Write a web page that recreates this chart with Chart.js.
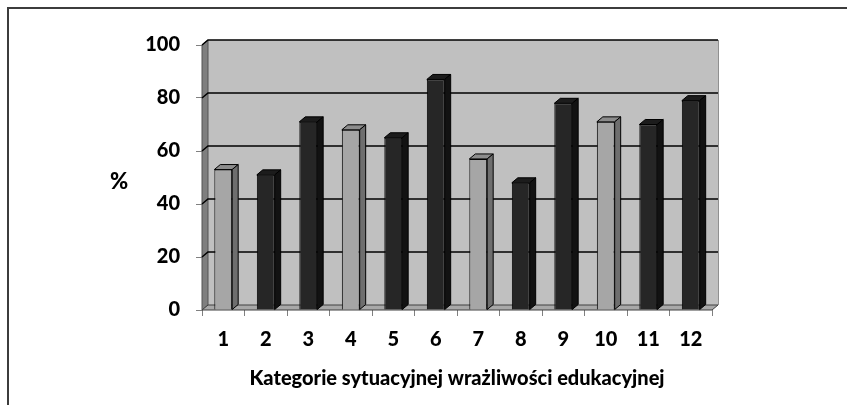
<!DOCTYPE html>
<html>
<head>
<meta charset="utf-8">
<script src="https://cdn.jsdelivr.net/npm/chart.js@4"></script>
<style>
  body { margin: 0; background: #fff; }
  #ramka { position: absolute; left: 7px; top: 7px; width: 900px; height: 500px;
           border-top: 2px solid #3c3c3c; border-left: 2px solid #3c3c3c; }
  canvas { position: absolute; left: 0; top: 0; }
</style>
</head>
<body>
<div id="ramka"></div>
<canvas id="wykres" width="847" height="405"></canvas>
<script>
    const kategorie = ['1', '2', '3', '4', '5', '6', '7', '8', '9', '10', '11', '12'];
    const procenty = [53, 51, 71, 68, 65, 87, 57, 48, 78, 71, 70, 79];
    const grupa = ['jasna', 'ciemna', 'ciemna', 'jasna', 'ciemna', 'ciemna',
                   'jasna', 'ciemna', 'ciemna', 'jasna', 'ciemna', 'ciemna'];
    const podzialkaY = [0, 20, 40, 60, 80, 100];

    const kolory = {
      jasna:  { przod: '#a6a6a6', bok: '#6e6e6e', gora: '#8c8c8c' },
      ciemna: { przod: '#262626', bok: '#121212', gora: '#1c1c1c' }
    };

    // glebokosc efektu 3D
    const GX = 6, GY = 5;

    const efekt3d = {
      id: 'efekt3d',
      beforeDatasetsDraw(chart) {
        const { ctx, chartArea: a, scales: { y } } = chart;
        ctx.save();
        // tylna sciana
        ctx.fillStyle = '#c0c0c0';
        ctx.fillRect(a.left + GX, a.top - GY, a.right - a.left, a.bottom - a.top);
        ctx.strokeStyle = '#909090';
        ctx.lineWidth = 1;
        ctx.beginPath();
        ctx.moveTo(a.right + GX + 0.5, a.top - GY);
        ctx.lineTo(a.right + GX + 0.5, a.bottom - GY);
        ctx.stroke();
        // lewa sciana
        ctx.beginPath();
        ctx.moveTo(a.left, a.bottom);
        ctx.lineTo(a.left, a.top);
        ctx.lineTo(a.left + GX, a.top - GY);
        ctx.lineTo(a.left + GX, a.bottom - GY);
        ctx.closePath();
        ctx.fillStyle = '#7f7f7f';
        ctx.fill();
        ctx.strokeStyle = '#555';
        ctx.stroke();
        // linie siatki
        ctx.strokeStyle = '#000';
        ctx.lineWidth = 1.5;
        podzialkaY.slice(1).forEach(v => {
          const py = Math.round(y.getPixelForValue(v));
          ctx.beginPath();
          ctx.moveTo(a.left, py);
          ctx.lineTo(a.left + GX, py - GY);
          ctx.lineTo(a.right + GX, py - GY);
          ctx.stroke();
        });
        // podloga
        ctx.beginPath();
        ctx.moveTo(a.left, a.bottom);
        ctx.lineTo(a.right, a.bottom);
        ctx.lineTo(a.right + GX, a.bottom - GY);
        ctx.lineTo(a.left + GX, a.bottom - GY);
        ctx.closePath();
        ctx.fillStyle = '#a8a8a8';
        ctx.fill();
        ctx.strokeStyle = '#404040';
        ctx.lineWidth = 1;
        ctx.stroke();
        ctx.restore();
      },
      afterDatasetsDraw(chart) {
        const { ctx } = chart;
        const meta = chart.getDatasetMeta(0);
        ctx.save();
        ctx.strokeStyle = '#000';
        ctx.lineWidth = 1;
        meta.data.forEach((bar, i) => {
          const { x, y, base, width } = bar.getProps(['x', 'y', 'base', 'width'], true);
          const l = x - width / 2, r = x + width / 2;
          const k = kolory[grupa[i]];
          ctx.beginPath();
          ctx.moveTo(l, y);
          ctx.lineTo(l + GX, y - GY);
          ctx.lineTo(r + GX, y - GY);
          ctx.lineTo(r, y);
          ctx.closePath();
          ctx.fillStyle = k.gora;
          ctx.fill();
          ctx.stroke();
          ctx.beginPath();
          ctx.moveTo(r, y);
          ctx.lineTo(r + GX, y - GY);
          ctx.lineTo(r + GX, base - GY);
          ctx.lineTo(r, base);
          ctx.closePath();
          ctx.fillStyle = k.bok;
          ctx.fill();
          ctx.stroke();
        });
        // opis osi Y
        ctx.fillStyle = '#000';
        ctx.font = '900 22px Lato';
        ctx.textAlign = 'center';
        ctx.textBaseline = 'middle';
        ctx.fillText('%', 119, 182);
        ctx.restore();
      }
    };

    new Chart(document.getElementById('wykres'), {
      type: 'bar',
      data: {
        labels: kategorie,
        datasets: [{
          data: procenty,
          backgroundColor: grupa.map(g => kolory[g].przod),
          borderColor: '#000',
          borderWidth: 1,
          barPercentage: 0.42,
          categoryPercentage: 1
        }]
      },
      options: {
        responsive: false,
        animation: false,
        layout: { padding: { left: 0, top: 45, right: 135, bottom: 0 } },
        plugins: { legend: { display: false }, tooltip: { enabled: false } },
        scales: {
          x: {
            afterFit: s => { s.height = 95; },
            grid: { drawOnChartArea: false, tickLength: 6, color: '#808080' },
            border: { display: false },
            ticks: { color: '#000', padding: 12, font: { family: 'Lato', size: 20, weight: '900' } },
            title: {
              display: true,
              text: 'Kategorie sytuacyjnej wrażliwości edukacyjnej',
              color: '#000',
              font: { family: 'Lato', size: 20, weight: '900' },
              padding: { top: 0, bottom: 14 }
            }
          },
          y: {
            min: podzialkaY[0],
            max: podzialkaY[podzialkaY.length - 1],
            afterFit: s => { s.width = 202; },
            grid: { drawOnChartArea: false, tickLength: 6, color: '#808080' },
            border: { display: false },
            ticks: {
              stepSize: podzialkaY[1] - podzialkaY[0],
              color: '#000',
              padding: 16,
              font: { family: 'Lato', size: 20, weight: '900' }
            }
          }
        }
      },
      plugins: [efekt3d]
    });
</script>
</body>
</html>
